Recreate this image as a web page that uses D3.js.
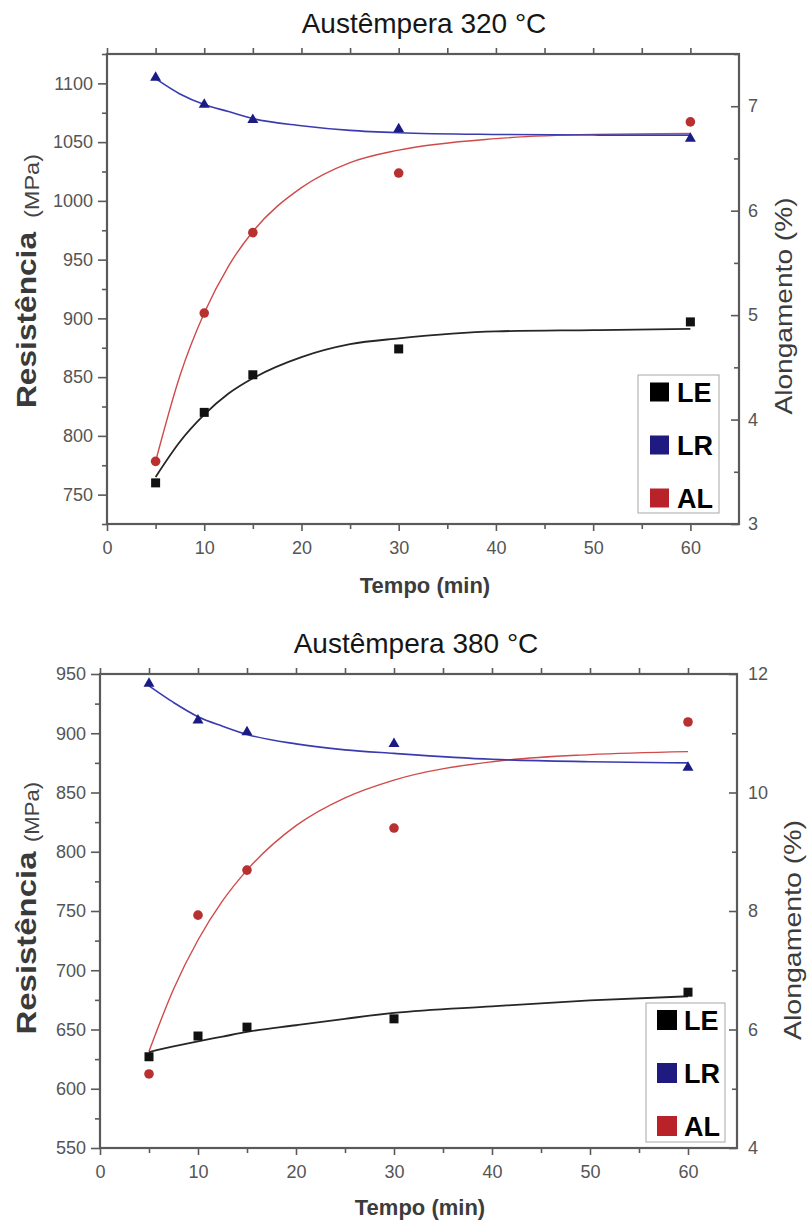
<!DOCTYPE html>
<html>
<head>
<meta charset="utf-8">
<script src="https://cdn.jsdelivr.net/npm/d3@7"></script>
<style>
  html, body { margin: 0; padding: 0; background: #fff; }
  svg { display: block; }
</style>
</head>
<body>
<script>
// ---------------- DATA ----------------
const tempo = [5, 10, 15, 30, 60];
// Austêmpera 320 °C
const le320 = [760, 820, 852, 874, 897];
const lr320 = [1105, 1082, 1069, 1061, 1053];
const al320 = [3.6, 5.02, 5.79, 6.36, 6.85];
// Austêmpera 380 °C
const le380 = [627, 644.5, 652, 659, 681.5];
const lr380 = [942, 911, 901, 891, 871];
const al380 = [5.25, 7.93, 8.69, 9.4, 11.19];

// fitted curves
const fitX = [5, 7.5, 10, 12.5, 15, 20, 25, 30, 40, 50, 60];
const leFit320 = [765, 795, 818, 836, 849, 867, 878, 883, 889, 890, 891];
const lrFit320 = [1104, 1091, 1082, 1076, 1070, 1064, 1060, 1058, 1056.5, 1056, 1056];
const alFit320 = [3.6, 4.42, 5.02, 5.47, 5.80, 6.22, 6.46, 6.58, 6.69, 6.73, 6.74];
const leFit380 = [631, 635.7, 640, 644, 648, 653.6, 659, 664, 669.5, 674.5, 678];
const lrFit380 = [940, 926, 914, 906, 899, 891, 886, 883, 878, 876, 875];
const alFit380 = [5.63, 6.68, 7.51, 8.17, 8.69, 9.44, 9.91, 10.21, 10.52, 10.64, 10.69];

// tick labels
const xTicks = [0, 10, 20, 30, 40, 50, 60];
const xMinor = [5, 15, 25, 35, 45, 55];
const yLTicks320 = [750, 800, 850, 900, 950, 1000, 1050, 1100];
const yLMinor320 = [725, 775, 825, 875, 925, 975, 1025, 1075, 1125];
const yRTicks320 = [3, 4, 5, 6, 7];
const yRMinor320 = [3.5, 4.5, 5.5, 6.5, 7.5];
const yLTicks380 = [550, 600, 650, 700, 750, 800, 850, 900, 950];
const yLMinor380 = [575, 625, 675, 725, 775, 825, 875, 925];
const yRTicks380 = [4, 6, 8, 10, 12];
const yRMinor380 = [5, 7, 9, 11];

const seriesNames = ["LE", "LR", "AL"];
const titles = ["Austêmpera 320 °C", "Austêmpera 380 °C"];

// ---------------- STYLE ----------------
const C = {
  axis: "#5a5a5a", tick: "#555",
  LE: "#111111", LR: "#1b1b85", AL: "#b8302f",
  LEline: "#262626", LRline: "#3b3bb0", ALline: "#d14a4a",
  legLE: "#000000", legLR: "#1f1a80", legAL: "#b82228"
};
const FONT = "'Liberation Sans', Arial, Helvetica, sans-serif";
const fmt = d3.format("d");

const svg = d3.select("body").append("svg")
  .attr("width", 809).attr("height", 1223)
  .style("font-family", FONT);
svg.append("rect").attr("width", 809).attr("height", 1223).attr("fill", "#fff");

function panel(cfg) {
  const g = svg.append("g");
  const x = d3.scaleLinear().domain([0, 65]).range([cfg.left, cfg.right]);
  const yL = d3.scaleLinear().domain(cfg.yLDomain).range([cfg.bottom, cfg.top]);
  const yR = d3.scaleLinear().domain(cfg.yRDomain).range([cfg.bottom, cfg.top]);

  function style(sel) {
    sel.select(".domain").remove();
    sel.selectAll(".tick line").attr("stroke", C.axis).attr("stroke-width", 1.6);
    sel.selectAll(".tick text").attr("fill", C.tick).style("font-size", "18px")
      .style("font-family", FONT);
  }

  // bottom
  g.append("g").attr("transform", `translate(0,${cfg.bottom})`)
    .call(d3.axisBottom(x).tickValues(xTicks).tickFormat(fmt).tickSize(7).tickPadding(10)).call(style);
  g.append("g").attr("transform", `translate(0,${cfg.bottom})`)
    .call(d3.axisBottom(x).tickValues(xMinor).tickSize(5).tickFormat("")).call(style);
  // top
  g.append("g").attr("transform", `translate(0,${cfg.top})`)
    .call(d3.axisTop(x).tickValues(xTicks.concat(xMinor)).tickSize(6).tickFormat("")).call(style);
  // left
  g.append("g").attr("transform", `translate(${cfg.left},0)`)
    .call(d3.axisLeft(yL).tickValues(cfg.yLTicks).tickFormat(fmt).tickSize(9).tickPadding(5)).call(style);
  g.append("g").attr("transform", `translate(${cfg.left},0)`)
    .call(d3.axisLeft(yL).tickValues(cfg.yLMinor).tickSize(5).tickFormat("")).call(style);
  // right
  g.append("g").attr("transform", `translate(${cfg.right},0)`)
    .call(d3.axisRight(yR).tickValues(cfg.yRTicks).tickFormat(fmt).tickSizeInner(-8).tickSizeOuter(0).tickPadding(cfg.rPad)).call(style);
  g.append("g").attr("transform", `translate(${cfg.right},0)`)
    .call(d3.axisRight(yR).tickValues(cfg.yRMinor).tickSizeInner(-5).tickSizeOuter(0).tickFormat("")).call(style);

  // frame
  g.append("rect")
    .attr("x", cfg.left).attr("y", cfg.top)
    .attr("width", cfg.right - cfg.left).attr("height", cfg.bottom - cfg.top)
    .attr("fill", "none").attr("stroke", C.axis).attr("stroke-width", 2.2);

  // fit curves
  const lineL = d3.line().x((d, i) => x(fitX[i])).y(d => yL(d)).curve(d3.curveMonotoneX);
  const lineR = d3.line().x((d, i) => x(fitX[i])).y(d => yR(d)).curve(d3.curveMonotoneX);
  g.append("path").attr("d", lineR(cfg.alFit)).attr("fill", "none")
    .attr("stroke", C.ALline).attr("stroke-width", 1.4);
  g.append("path").attr("d", lineL(cfg.lrFit)).attr("fill", "none")
    .attr("stroke", C.LRline).attr("stroke-width", 1.6);
  g.append("path").attr("d", lineL(cfg.leFit)).attr("fill", "none")
    .attr("stroke", C.LEline).attr("stroke-width", 1.8);

  // markers
  const sq = 9;
  g.selectAll(null).data(cfg.le).enter().append("rect")
    .attr("x", (d, i) => x(tempo[i]) - sq / 2).attr("y", d => yL(d) - sq / 2)
    .attr("width", sq).attr("height", sq).attr("fill", C.LE);
  const tri = d3.symbol().type(d3.symbolTriangle).size(52);
  g.selectAll(null).data(cfg.lr).enter().append("path")
    .attr("d", tri)
    .attr("transform", (d, i) => `translate(${x(tempo[i])},${yL(d)})`)
    .attr("fill", C.LR);
  g.selectAll(null).data(cfg.al).enter().append("circle")
    .attr("cx", (d, i) => x(tempo[i])).attr("cy", d => yR(d)).attr("r", 4.8)
    .attr("fill", C.AL);

  // title
  g.append("text").attr("x", cfg.titleX).attr("y", cfg.titleY)
    .attr("text-anchor", "middle").attr("fill", "#161616")
    .style("font-size", "28px").text(cfg.title);

  // x label
  g.append("text").attr("x", cfg.xlabX).attr("y", cfg.xlabY)
    .attr("text-anchor", "middle").attr("fill", "#3c3c3c")
    .style("font-size", "22px").style("font-weight", "bold").text("Tempo (min)");

  // left labels
  g.append("text")
    .attr("transform", `translate(${cfg.resX},${cfg.resY}) rotate(-90)`)
    .attr("text-anchor", "middle").attr("fill", "#3a3a3a")
    .attr("textLength", cfg.resLen).attr("lengthAdjust", "spacingAndGlyphs")
    .style("font-size", "28px").style("font-weight", "bold").text("Resistência");
  g.append("text")
    .attr("transform", `translate(${cfg.mpaX},${cfg.mpaY}) rotate(-90)`)
    .attr("text-anchor", "middle").attr("fill", "#444")
    .attr("textLength", cfg.mpaLen).attr("lengthAdjust", "spacingAndGlyphs")
    .style("font-size", "20px").text("(MPa)");
  // right label
  g.append("text")
    .attr("transform", `translate(${cfg.alX},${cfg.alY}) rotate(-90)`)
    .attr("text-anchor", "middle").attr("fill", "#3c3c3c")
    .attr("textLength", cfg.alLen).attr("lengthAdjust", "spacingAndGlyphs")
    .style("font-size", "24px").text("Alongamento (%)");

  // legend
  const L = cfg.legend;
  g.append("rect").attr("x", L.x).attr("y", L.y).attr("width", L.w).attr("height", L.h)
    .attr("fill", "#fff").attr("stroke", "#a8a8a8").attr("stroke-width", 1);
  const legCols = [C.legLE, C.legLR, C.legAL];
  seriesNames.forEach((name, i) => {
    const cy = L.cy0 + i * L.step;
    g.append("rect").attr("x", L.sx).attr("y", cy - L.s / 2)
      .attr("width", L.s).attr("height", L.s).attr("fill", legCols[i]);
    g.append("text").attr("x", L.tx).attr("y", cy + 10)
      .attr("fill", "#000").style("font-size", "27px").style("font-weight", "bold")
      .text(name);
  });
}

panel({
  left: 107, right: 739, top: 54, bottom: 524,
  yLDomain: [725, 1125], yRDomain: [3, 7.5],
  yLTicks: yLTicks320, yLMinor: yLMinor320, yRTicks: yRTicks320, yRMinor: yRMinor320,
  rPad: 9,
  le: le320, lr: lr320, al: al320, leFit: leFit320, lrFit: lrFit320, alFit: alFit320,
  title: titles[0], titleX: 424, titleY: 33,
  xlabX: 425, xlabY: 593,
  resX: 36, resY: 320, resLen: 176,
  mpaX: 39, mpaY: 186, mpaLen: 64,
  alX: 792, alY: 306, alLen: 217,
  legend: { x: 638, y: 375, w: 81, h: 138, sx: 650, s: 19, tx: 677, cy0: 392, step: 53 }
});

panel({
  left: 100, right: 737, top: 674, bottom: 1148,
  yLDomain: [550, 950], yRDomain: [4, 12],
  yLTicks: yLTicks380, yLMinor: yLMinor380, yRTicks: yRTicks380, yRMinor: yRMinor380,
  rPad: 11,
  le: le380, lr: lr380, al: al380, leFit: leFit380, lrFit: lrFit380, alFit: alFit380,
  title: titles[1], titleX: 416, titleY: 653,
  xlabX: 420, xlabY: 1215,
  resX: 36, resY: 943, resLen: 183,
  mpaX: 39, mpaY: 812, mpaLen: 60,
  alX: 801, alY: 930, alLen: 220,
  legend: { x: 646, y: 1003, w: 79, h: 139, sx: 657, s: 20, tx: 684, cy0: 1020, step: 53 }
});
</script>
</body>
</html>
